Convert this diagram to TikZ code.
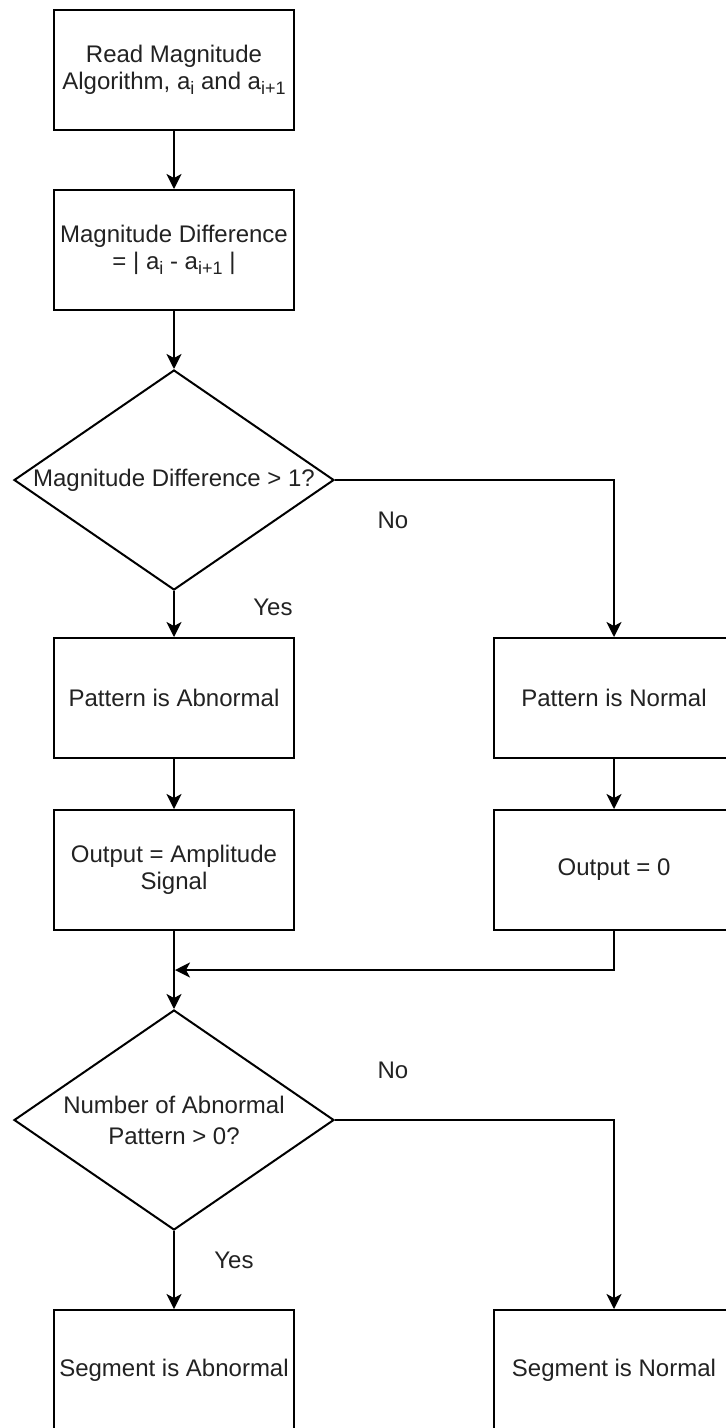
\documentclass[tikz,border=0pt]{standalone}
\usepackage{fontspec}
\setmainfont{Liberation Sans}
\usetikzlibrary{arrows.meta,shapes.geometric}

% lowered, smaller index for a_i style terms
\newcommand\lowidx[1]{\raisebox{-5pt}{\fontsize{18}{18}\selectfont #1}}

\definecolor{txt}{RGB}{34,34,34}

\begin{document}
\begin{tikzpicture}[x=1pt,y=-1pt,
  every node/.style={font=\fontsize{24}{27}\selectfont, text=txt},
  box/.style={draw=black, line width=2pt, fill=white, rectangle,
    minimum width=240pt, minimum height=120pt, inner sep=0pt, align=center},
  decision/.style={draw=black, line width=2pt, fill=white, diamond,
    minimum width=320pt, minimum height=220pt, inner sep=0pt,
    shape aspect=1.4545, align=center},
  flow/.style={draw=black, line width=2pt,
    -{Stealth[length=15pt,width=15pt,inset=4pt]}},
  lbl/.style={inner sep=0pt}
]
\useasboundingbox (0,0) rectangle (726,1428);
\clip (0,0) rectangle (726,1428);

% process boxes and decisions
\node[box] (read) at (174,70) {Read Magnitude\\Algorithm, a\lowidx{i} and a\lowidx{i+1}};
\node[box] (diff) at (174,250) {Magnitude Difference\\= | a\lowidx{i} - a\lowidx{i+1} |};
\node[decision] (q1) at (174,480) {Magnitude Difference > 1?};
\node[box] (pab) at (174,698) {Pattern is Abnormal};
\node[box] (pno) at (614,698) {Pattern is Normal};
\node[box] (oab) at (174,870) {Output = Amplitude\\Signal};
\node[box] (ono) at (614,870) {Output = 0};
\coordinate (join) at (175,970);
\node[decision] (q2) at (174,1120) {Number of Abnormal\\[4pt]Pattern > 0?};
\node[box] (sab) at (174,1370) {Segment is Abnormal};
\node[box] (sno) at (614,1370) {Segment is Normal};

% connectors
\draw[flow] (read) -- (diff);
\draw[flow] (diff) -- (q1);
\draw[flow] (q1) -- (pab);
\draw[flow] (q1.east) -| (pno.north);
\draw[flow] (pab) -- (oab);
\draw[flow] (pno) -- (ono);
\draw[flow] (oab) -- (q2);
\draw[flow] (ono.south) |- (join);
\draw[flow] (q2) -- (sab);
\draw[flow] (q2.east) -| (sno.north);

% branch labels
\node[lbl] (yes1) at (273,607) {Yes};
\node[lbl] (no1) at (393,520) {No};
\node[lbl] (no2) at (393,1070) {No};
\node[lbl] (yes2) at (234,1260) {Yes};
\end{tikzpicture}
\end{document}
